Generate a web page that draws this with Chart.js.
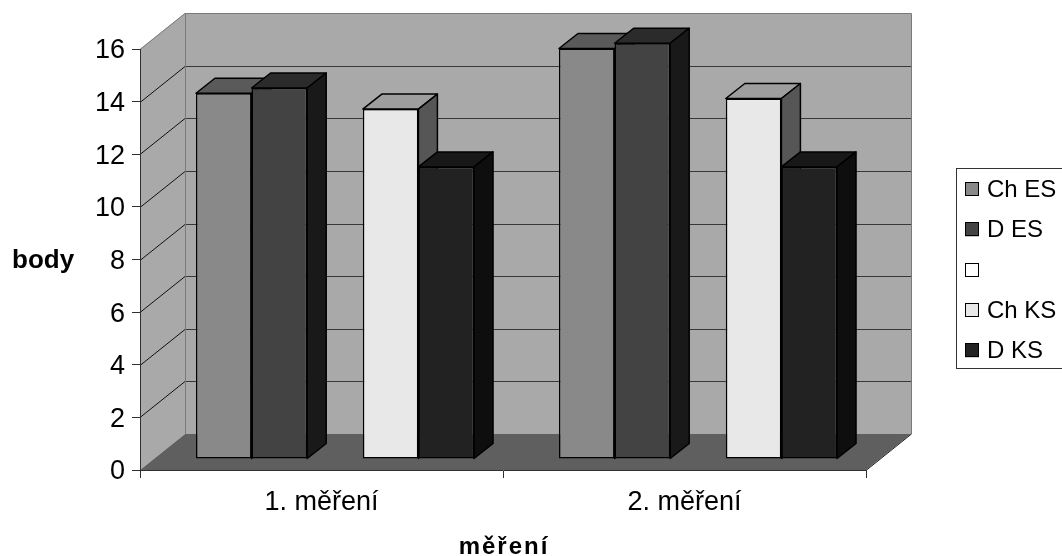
<!DOCTYPE html>
<html>
<head>
<meta charset="utf-8">
<script src="https://cdn.jsdelivr.net/npm/chart.js@4/dist/chart.umd.min.js"></script>
<style>
  html, body { margin: 0; padding: 0; background: #fff; }
  #wrap { width: 1062px; height: 556px; }
</style>
</head>
<body>
<div id="wrap"><canvas id="c" width="1062" height="556"></canvas></div>
<script>
// Categories, series and tick values
const categories = ['1. měření', '2. měření'];
const seriesNames = ['Ch ES', 'D ES', '', 'Ch KS', 'D KS'];
const chES = [13.9, 15.6];
const dES = [14.1, 15.8];
const blankSeries = [null, null];
const chKS = [13.3, 13.7];
const dKS = [11.1, 11.1];
const yTicks = [0, 2, 4, 6, 8, 10, 12, 14, 16];

const seriesValues = [chES, dES, blankSeries, chKS, dKS];
// front, top, side shades for each series
const faceColors = [
  { front: '#898989', top: '#5a5a5a', side: '#4a4a4a' },
  { front: '#434343', top: '#2b2b2b', side: '#191919' },
  { front: '#ffffff', top: '#dddddd', side: '#bbbbbb' },
  { front: '#e8e8e8', top: '#9e9e9e', side: '#565656' },
  { front: '#222222', top: '#181818', side: '#0e0e0e' }
];

const FONT = "'Liberation Sans', Arial, sans-serif";
const WALL_DX = 45, WALL_DY = -36;   // depth of the box (walls/floor)
const BAR_TX = 13.5, BAR_TY = -11;   // bars stand this far into the box
const BAR_DX = 19, BAR_DY = -15;     // depth of each bar

// Walls, floor, gridlines and 3D bar faces
const boxPlugin = {
  id: 'box3d',
  beforeDraw(chart) {
    const { ctx, chartArea: a, scales } = chart;
    const y = scales.y;
    const L = a.left, R = a.right, T = a.top, B = a.bottom;
    ctx.save();
    // back wall
    ctx.fillStyle = '#a9a9a9';
    ctx.fillRect(L + WALL_DX, T + WALL_DY, R - L, B - T);
    // left wall
    ctx.beginPath();
    ctx.moveTo(L, T); ctx.lineTo(L + WALL_DX, T + WALL_DY);
    ctx.lineTo(L + WALL_DX, B + WALL_DY); ctx.lineTo(L, B); ctx.closePath();
    ctx.fill();
    // floor
    ctx.fillStyle = '#5f5f5f';
    ctx.beginPath();
    ctx.moveTo(L, B); ctx.lineTo(R, B);
    ctx.lineTo(R + WALL_DX, B + WALL_DY); ctx.lineTo(L + WALL_DX, B + WALL_DY);
    ctx.closePath(); ctx.fill();
    // gridlines
    ctx.lineWidth = 1;
    yTicks.forEach(v => {
      if (v === 0 || v === 16) return;
      const py = Math.round(y.getPixelForValue(v)) + 0.5;
      ctx.strokeStyle = '#111';
      ctx.beginPath();
      ctx.moveTo(L, py); ctx.lineTo(L + WALL_DX, py + WALL_DY);
      ctx.stroke();
      ctx.strokeStyle = '#383838';
      ctx.beginPath();
      ctx.moveTo(L + WALL_DX, py + WALL_DY); ctx.lineTo(R + WALL_DX, py + WALL_DY);
      ctx.stroke();
    });
    // box edges
    ctx.strokeStyle = '#7a7a7a';
    ctx.beginPath();
    ctx.moveTo(L, T + 0.5); ctx.lineTo(L + WALL_DX, T + WALL_DY + 0.5);
    ctx.lineTo(R + WALL_DX + 0.5, T + WALL_DY + 0.5);
    ctx.lineTo(R + WALL_DX + 0.5, B + WALL_DY);
    ctx.moveTo(L + WALL_DX + 0.5, T + WALL_DY); ctx.lineTo(L + WALL_DX + 0.5, B + WALL_DY);
    ctx.stroke();
    ctx.strokeStyle = '#222';
    ctx.beginPath();
    ctx.moveTo(R, B + 0.5); ctx.lineTo(R + WALL_DX + 0.5, B + WALL_DY);
    ctx.stroke();
    ctx.restore();
  },
  // bars are painted below, left to right, so each one hides its neighbour's side
  beforeDatasetDraw() {
    return false;
  },
  afterDatasetsDraw(chart) {
    const { ctx } = chart;
    const items = [];
    chart.getSortedVisibleDatasetMetas().forEach(meta => {
      const values = chart.data.datasets[meta.index].data;
      meta.data.forEach((el, i) => {
        if (values[i] === null || values[i] === undefined) return;
        const p = el.getProps(['x', 'y', 'base', 'width'], true);
        items.push({ el, p, c: faceColors[meta.index] });
      });
    });
    items.sort((m, n) => m.p.x - n.p.x);
    ctx.save();
    ctx.translate(BAR_TX, BAR_TY);
    items.forEach(({ el, p, c }) => {
      el.draw(ctx);
      const l = p.x - p.width / 2, r = p.x + p.width / 2, t = p.y, b = p.base;
      ctx.save();
      ctx.lineWidth = 1.5;
      ctx.strokeStyle = '#000';
      ctx.lineJoin = 'round';
      // top face
      ctx.fillStyle = c.top;
      ctx.beginPath();
      ctx.moveTo(l, t); ctx.lineTo(l + BAR_DX, t + BAR_DY);
      ctx.lineTo(r + BAR_DX, t + BAR_DY); ctx.lineTo(r, t); ctx.closePath();
      ctx.fill(); ctx.stroke();
      // side face
      ctx.fillStyle = c.side;
      ctx.beginPath();
      ctx.moveTo(r, t); ctx.lineTo(r + BAR_DX, t + BAR_DY);
      ctx.lineTo(r + BAR_DX, b + BAR_DY); ctx.lineTo(r, b); ctx.closePath();
      ctx.fill(); ctx.stroke();
      ctx.restore();
    });
    ctx.restore();
  },
  afterDraw(chart) {
    const { ctx } = chart;
    ctx.save();
    // axis titles
    ctx.fillStyle = '#000';
    ctx.font = 'bold 26px ' + FONT;
    ctx.textBaseline = 'alphabetic';
    ctx.textAlign = 'left';
    ctx.fillText('body', 12, 268);
    ctx.font = 'bold 24px ' + FONT;
    ctx.textAlign = 'center';
    ctx.letterSpacing = '2px';
    ctx.fillText('měření', 504, 554);
    ctx.letterSpacing = '0px';
    // legend
    ctx.lineWidth = 1;
    ctx.strokeStyle = '#333';
    ctx.strokeRect(956.5, 168.5, 130, 200);
    ctx.font = '24px ' + FONT;
    ctx.textAlign = 'left';
    ctx.textBaseline = 'middle';
    chart.data.datasets.forEach((ds, i) => {
      const cy = 189 + i * 40.3;
      ctx.fillStyle = ds.backgroundColor;
      ctx.fillRect(965, cy - 7, 14, 14);
      ctx.strokeStyle = '#000';
      ctx.strokeRect(965.5, Math.round(cy - 7) + 0.5, 13, 13);
      ctx.fillStyle = '#000';
      ctx.fillText(ds.label, 987, cy + 1);
    });
    ctx.restore();
  }
};

const datasets = seriesNames.map((name, i) => ({
  label: name,
  data: seriesValues[i],
  backgroundColor: faceColors[i].front,
  borderColor: '#000',
  borderWidth: 1.5,
  borderSkipped: false,
  clip: false,
  categoryPercentage: 0.766,
  barPercentage: 1
}));

new Chart(document.getElementById('c'), {
  type: 'bar',
  data: { labels: categories, datasets },
  plugins: [boxPlugin],
  options: {
    responsive: false,
    animation: false,
    devicePixelRatio: 1,
    layout: { padding: { top: 49, right: 196, left: 0, bottom: 0 } },
    plugins: { legend: { display: false }, tooltip: { enabled: false } },
    scales: {
      x: {
        afterFit(s) { s.height = 86; },
        grid: { drawOnChartArea: false, drawTicks: true, tickLength: 8, color: '#303030', offset: true },
        border: { display: true, color: '#303030', width: 1 },
        ticks: { color: '#000', font: { family: FONT, size: 27 }, padding: 8 }
      },
      y: {
        min: 0,
        max: 16,
        afterFit(s) { s.width = 140; },
        afterBuildTicks(s) { s.ticks = yTicks.map(v => ({ value: v })); },
        grid: { drawOnChartArea: false, drawTicks: true, tickLength: 8, color: '#303030' },
        border: { display: true, color: '#303030', width: 1 },
        ticks: { color: '#000', font: { family: FONT, size: 27 }, padding: 7, labelOffset: 2 }
      }
    }
  }
});
</script>
</body>
</html>
